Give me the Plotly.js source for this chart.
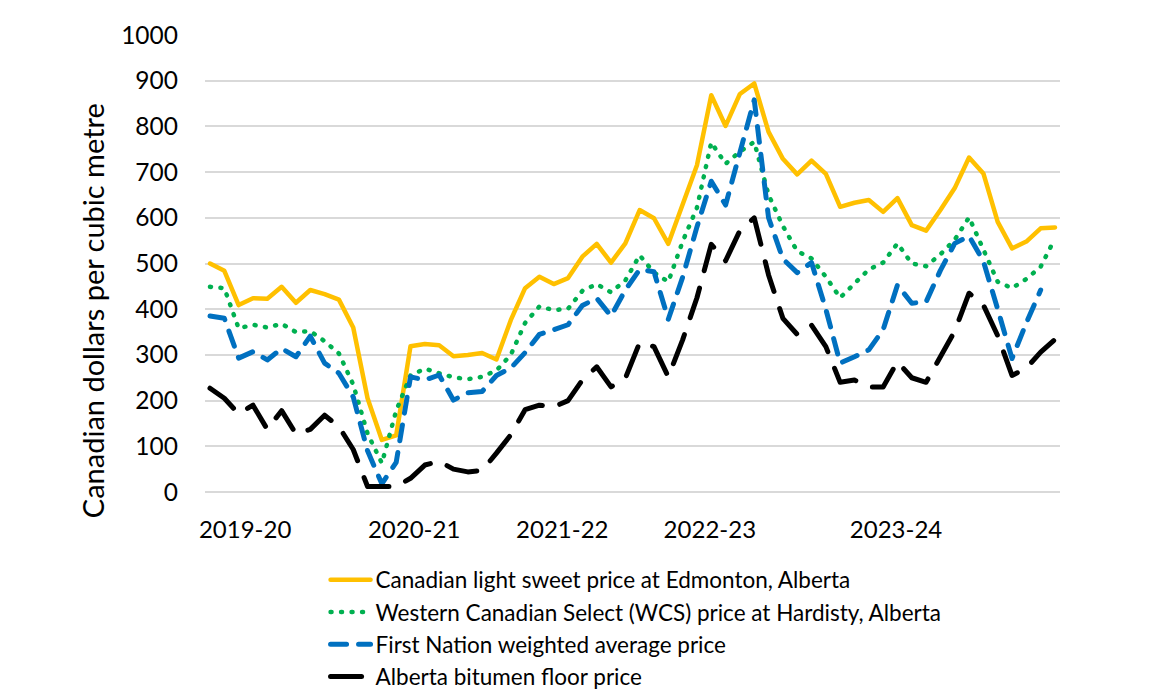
<!DOCTYPE html>
<html>
<head>
<meta charset="utf-8">
<script src="https://cdn.plot.ly/plotly-3.0.1.min.js"></script>
<style>
  html, body { margin: 0; padding: 0; background: #ffffff; }
  #chart { width: 1170px; height: 700px; }
  .js-line { stroke-linecap: round; stroke-linejoin: round; }
</style>
</head>
<body>
<div id="chart"></div>
<script>
// Monthly observations, April 2019 to March 2024 (fiscal years 2019-20 to 2023-24)
const months = [
  "2019-04","2019-05","2019-06","2019-07","2019-08","2019-09","2019-10","2019-11","2019-12","2020-01","2020-02","2020-03",
  "2020-04","2020-05","2020-06","2020-07","2020-08","2020-09","2020-10","2020-11","2020-12","2021-01","2021-02","2021-03",
  "2021-04","2021-05","2021-06","2021-07","2021-08","2021-09","2021-10","2021-11","2021-12","2022-01","2022-02","2022-03",
  "2022-04","2022-05","2022-06","2022-07","2022-08","2022-09","2022-10","2022-11","2022-12","2023-01","2023-02","2023-03",
  "2023-04","2023-05","2023-06","2023-07","2023-08","2023-09","2023-10","2023-11","2023-12","2024-01","2024-02","2024-03"
];

// Canadian light sweet price at Edmonton, Alberta ($/m3)
const lightSweet = [
  500,484,409,424,423,449,414,442,433,421,360,205,
  114,124,319,324,321,297,300,304,290,376,446,471,
  455,468,515,543,502,544,617,599,543,632,715,868,
  801,871,894,788,729,695,725,696,624,633,639,613,
  643,584,572,617,665,732,697,591,533,548,577,579
];

// Western Canadian Select (WCS) price at Hardisty, Alberta ($/m3)
const wcs = [
  449,446,358,366,360,368,350,352,330,303,235,128,
  63,178,255,270,260,251,247,252,266,300,370,406,
  398,401,440,455,437,463,518,480,460,548,622,765,
  718,745,766,650,582,527,511,471,425,456,487,502,
  544,500,494,520,552,601,530,460,446,466,493,555
];

// First Nation weighted average price ($/m3)
const firstNation = [
  385,380,293,307,289,314,296,341,282,260,208,90,
  18,65,252,245,256,201,217,220,255,271,305,345,
  355,366,408,424,385,442,487,482,378,470,580,680,
  628,740,858,600,510,480,502,400,282,296,311,355,
  453,413,416,485,544,560,505,400,292,370,442,null
];

// Alberta bitumen floor price ($/m3)
const bitumenFloor = [
  227,205,171,190,137,178,127,137,168,143,93,12,
  12,12,30,59,67,50,44,47,85,125,180,190,
  186,200,245,274,230,249,327,318,252,333,425,542,
  506,572,600,475,380,345,365,318,240,245,230,230,
  285,250,240,297,352,435,409,342,255,271,306,334
];

// Fiscal-year tick labels
const fiscalYears = ["2019-20","2020-21","2021-22","2022-23","2023-24"];

const seriesNames = [
  "Canadian light sweet price at Edmonton, Alberta",
  "Western Canadian Select (WCS) price at Hardisty, Alberta",
  "First Nation weighted average price",
  "Alberta bitumen floor price"
];

const yAxisTitle = "Canadian dollars per cubic metre";

// ---- presentation ----
const xIdx = months.map((m, i) => i);
const fiscalTickPos = [2.45, 14.25, 24.6, 34.9, 47.9];
const FONT = "Lato, 'Open Sans', Arial, sans-serif";

const traces = [
  { y: lightSweet, color: "#FFC000", dash: "solid", width: 4.5 },
  { y: wcs, color: "#00B050", dash: "1px,9.5px", width: 4.5 },
  { y: firstNation, color: "#0070C0", dash: "16px,12px", width: 5 },
  { y: bitumenFloor, color: "#000000", dash: "31px,18px", width: 5 }
].map((s, k) => ({
  type: "scatter",
  mode: "lines",
  x: xIdx,
  y: s.y,
  name: seriesNames[k],
  legendgroup: "g" + k,
  connectgaps: false,
  line: { color: s.color, width: s.width, dash: s.dash },
  hoverinfo: "x+y+name"
}));

const layout = {
  width: 1170,
  height: 700,
  paper_bgcolor: "#ffffff",
  plot_bgcolor: "#ffffff",
  margin: { l: 205, r: 110, t: 35, b: 208, pad: 0 },
  font: { family: FONT, color: "#000000", size: 22 },
  showlegend: true,
  legend: {
    xref: "paper",
    x: 0.141, xanchor: "left",
    yref: "container",
    y: 0.2021, yanchor: "top",
    orientation: "v",
    font: { family: FONT, size: 22.5, color: "#000000" },
    bgcolor: "rgba(0,0,0,0)",
    tracegroupgap: 0,
    itemwidth: 40
  },
  annotations: [{
    text: yAxisTitle,
    xref: "paper", yref: "paper",
    x: -0.132, y: 0.396,
    xanchor: "center", yanchor: "middle",
    textangle: -90,
    showarrow: false,
    font: { family: FONT, size: 29, color: "#000000" }
  }],
  xaxis: {
    range: [-0.35, 59.35],
    showgrid: false,
    zeroline: false,
    showline: false,
    ticks: "",
    tickmode: "array",
    tickvals: fiscalTickPos,
    ticktext: fiscalYears,
    tickfont: { family: FONT, size: 24, color: "#000000" },
    ticklabelstandoff: 21,
    automargin: false,
    fixedrange: true
  },
  yaxis: {
    range: [0, 1000],
    tickmode: "linear",
    tick0: 0,
    dtick: 100,
    showgrid: true,
    gridcolor: "#d9d9d9",
    gridwidth: 2,
    zeroline: true,
    zerolinecolor: "#d9d9d9",
    zerolinewidth: 2,
    showline: false,
    ticks: "",
    tickfont: { family: FONT, size: 24.5, color: "#000000" },
    ticklabelstandoff: 26,
    automargin: false,
    fixedrange: true
  }
};

Plotly.newPlot("chart", traces, layout, { displayModeBar: false, staticPlot: false });
</script>
</body>
</html>
